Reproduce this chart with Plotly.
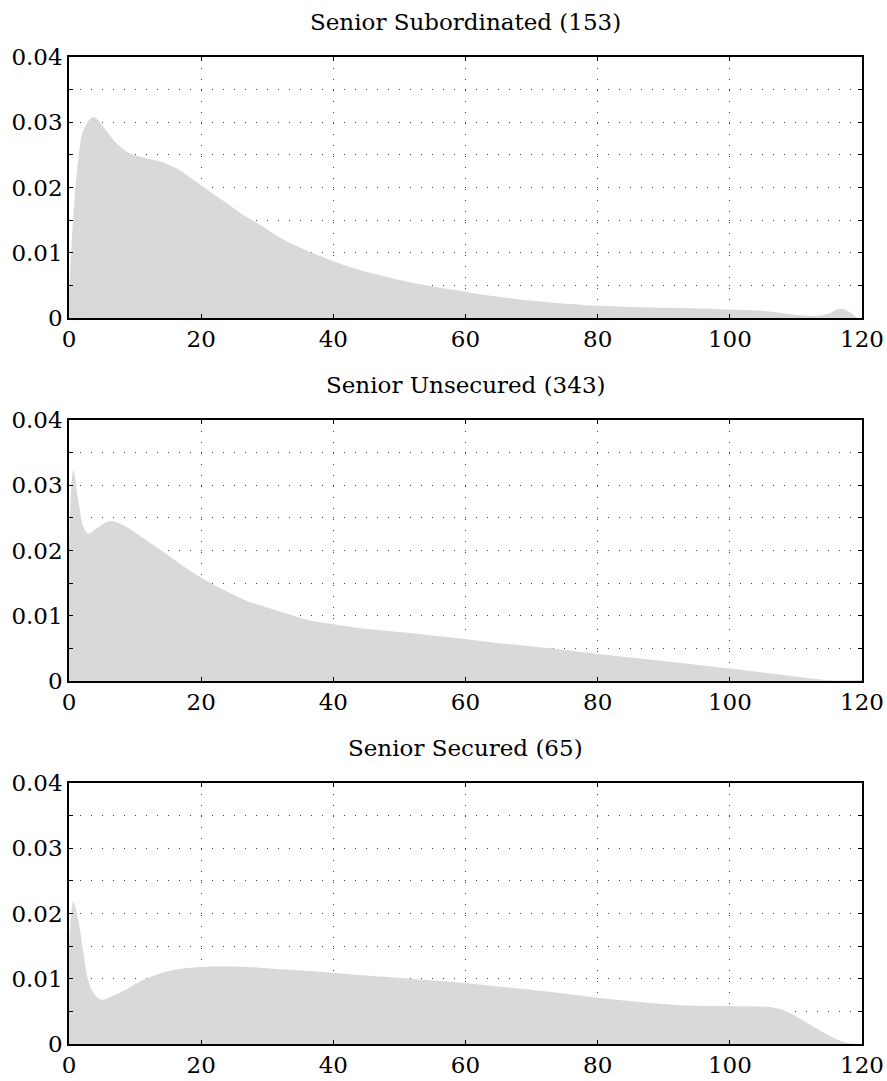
import plotly.graph_objects as go

# ---- data ----
titles = ["Senior Subordinated (153)", "Senior Unsecured (343)", "Senior Secured (65)"]

sub_x = [0, 0.65, 1.4, 2.2, 3.7, 5.2, 6.7, 8.7, 11.2, 13.8, 16.3, 18.8, 21.3, 23.9, 26.4, 28.9,
         32.5, 37.5, 42.5, 47.6, 52.5, 57.7, 62.5, 67.7, 72.5, 77.8, 82.5, 87.9, 94, 100, 105,
         109, 112.6, 115, 116.6, 118.2, 119.4, 120]
sub_y = [0.0038, 0.0155, 0.0242, 0.0288, 0.0308, 0.0293, 0.0273, 0.0255, 0.0246, 0.0240, 0.0229,
         0.0212, 0.0194, 0.0176, 0.0158, 0.0143, 0.0120, 0.0097, 0.0078, 0.0064, 0.0053, 0.0044,
         0.0036, 0.0029, 0.0024, 0.0020, 0.0018, 0.0016, 0.0015, 0.0013, 0.0011, 0.0006, 0.0003,
         0.0007, 0.0014, 0.0009, 0.0, 0.0]

uns_x = [0, 0.65, 1.4, 2.2, 2.9, 4.2, 6.2, 8.7, 11.2, 13.8, 16.3, 18.8, 21.3, 23.9, 26.4, 28.9,
         32.4, 36, 40, 44, 48, 54, 60.2, 66, 72.8, 80.4, 87.9, 94, 100, 105, 110.6, 115.2, 118, 120]
uns_y = [0.0211, 0.0323, 0.0277, 0.0236, 0.0226, 0.0234, 0.0245, 0.0236, 0.0219, 0.0201, 0.0183,
         0.0166, 0.0151, 0.0137, 0.0125, 0.0116, 0.0105, 0.0094, 0.0087, 0.0081, 0.0077, 0.0071,
         0.0064, 0.0057, 0.0050, 0.0041, 0.0033, 0.0026, 0.0019, 0.0013, 0.0006, 0.0001, 0.0001,
         0.0002]

sec_x = [0, 0.65, 1.4, 2.2, 2.9, 3.7, 4.9, 6.7, 8.7, 11.2, 13.8, 16.3, 19.8, 23.9, 28.9, 33,
         37.5, 42.5, 47.6, 54, 60.2, 66, 72.8, 80, 87.9, 94, 100, 105.5, 108, 110, 113.6, 116,
         117.6, 119, 120]
sec_y = [0.0149, 0.0218, 0.0190, 0.0139, 0.0098, 0.0078, 0.0068, 0.0074, 0.0084, 0.0098, 0.0108,
         0.0114, 0.0118, 0.0119, 0.0117, 0.0114, 0.0111, 0.0107, 0.0103, 0.0098, 0.0093, 0.0087,
         0.0080, 0.0071, 0.0063, 0.0059, 0.0058, 0.0057, 0.0052, 0.0042, 0.0021, 0.0008, 0.0002,
         0.0, 0.0]

series = [(sub_x, sub_y), (uns_x, uns_y), (sec_x, sec_y)]

x_ticks = [0, 20, 40, 60, 80, 100, 120]
y_ticks = [0, 0.005, 0.01, 0.015, 0.02, 0.025, 0.03, 0.035, 0.04]
y_ticktext = ["0", "", "0.01", "", "0.02", "", "0.03", "", "0.04"]

# ---- layout geometry ----
W, H = 887, 1081
ML, MR, MT, MB = 69, 25, 57, 37
PH = H - MT - MB
panels_px = [(57, 318), (420, 681), (783, 1044)]
title_px = [22, 385, 748]

FONT = "DejaVu Serif"
FS = 23

fig = go.Figure()
for i, (xs, ys) in enumerate(series):
    n = "" if i == 0 else str(i + 1)
    fig.add_trace(go.Scatter(
        x=xs, y=ys, mode="lines", fill="tozeroy",
        fillcolor="#d9d9d9", line=dict(width=0, shape="spline", smoothing=1.0, color="#d9d9d9"),
        xaxis="x" + n, yaxis="y" + n, showlegend=False, hoverinfo="skip"))
    top, bot = panels_px[i]
    dom = [(H - MB - bot) / PH, (H - MB - top) / PH]
    common = dict(showline=True, linecolor="black", linewidth=1.5, mirror="allticks",
                  ticks="inside", ticklen=4, tickcolor="black", tickwidth=1,
                  showgrid=True, gridcolor="#444", gridwidth=1, griddash="1px,10px",
                  zeroline=False, automargin=False,
                  tickfont=dict(family=FONT, size=FS, color="black"))
    fig.layout["xaxis" + n] = dict(range=[0, 120], tickvals=x_ticks, anchor="y" + n,
                                   domain=[0, 1], **common)
    fig.layout["yaxis" + n] = dict(range=[0, 0.04], tickvals=y_ticks, ticktext=y_ticktext,
                                   anchor="x" + n, domain=dom, **common)
    fig.add_annotation(text=titles[i], xref="paper", yref="paper", x=0.5,
                       y=(H - MB - title_px[i]) / PH, xanchor="center", yanchor="middle",
                       showarrow=False, font=dict(family=FONT, size=FS, color="black"))

fig.update_layout(width=W, height=H,
                  margin=dict(l=ML, r=MR, t=MT, b=MB, autoexpand=False),
                  plot_bgcolor="white", paper_bgcolor="white")

fig.write_html("out.html")
